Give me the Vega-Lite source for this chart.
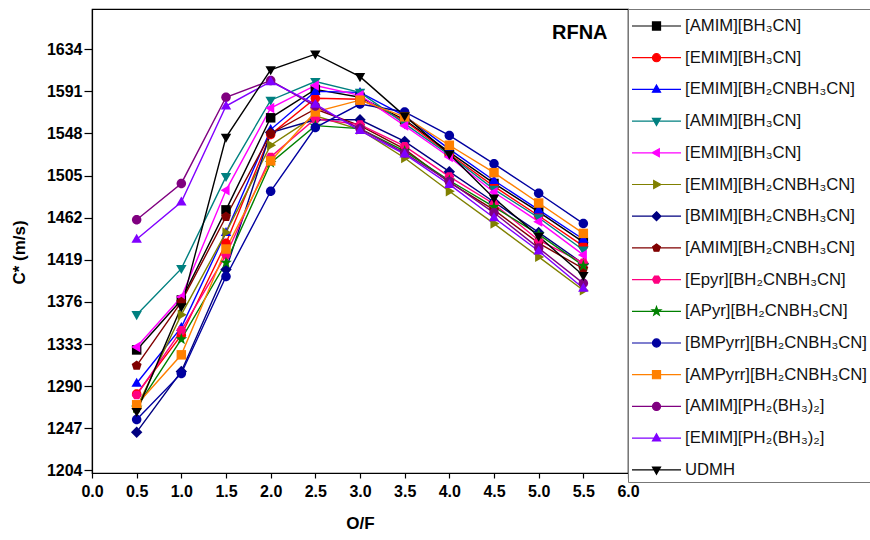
{
  "$schema": "https://vega.github.io/schema/vega-lite/v6.json",
  "width": 536,
  "height": 464,
  "autosize": {"type": "none"},
  "padding": {"left": 92, "top": 9, "right": 242, "bottom": 67},
  "datasets": {"cstar": [
    {"k":1,"x":0.5,"v":1327},{"k":1,"x":1.0,"v":1378},{"k":1,"x":1.5,"v":1470},{"k":1,"x":2.0,"v":1564},{"k":1,"x":2.5,"v":1593},{"k":1,"x":3.0,"v":1585},{"k":1,"x":3.5,"v":1562},{"k":1,"x":4.0,"v":1529},{"k":1,"x":4.5,"v":1497},{"k":1,"x":5.0,"v":1468},{"k":1,"x":5.5,"v":1437},
    {"k":2,"x":0.5,"v":1282},{"k":2,"x":1.0,"v":1342},{"k":2,"x":1.5,"v":1436},{"k":2,"x":2.0,"v":1547},{"k":2,"x":2.5,"v":1584},{"k":2,"x":3.0,"v":1583},{"k":2,"x":3.5,"v":1561},{"k":2,"x":4.0,"v":1527},{"k":2,"x":4.5,"v":1494},{"k":2,"x":5.0,"v":1464},{"k":2,"x":5.5,"v":1433},
    {"k":3,"x":0.5,"v":1293},{"k":3,"x":1.0,"v":1350},{"k":3,"x":1.5,"v":1447},{"k":3,"x":2.0,"v":1552},{"k":3,"x":2.5,"v":1591},{"k":3,"x":3.0,"v":1590},{"k":3,"x":3.5,"v":1566},{"k":3,"x":4.0,"v":1532},{"k":3,"x":4.5,"v":1500},{"k":3,"x":5.0,"v":1470},{"k":3,"x":5.5,"v":1440},
    {"k":4,"x":0.5,"v":1363},{"k":4,"x":1.0,"v":1410},{"k":4,"x":1.5,"v":1504},{"k":4,"x":2.0,"v":1582},{"k":4,"x":2.5,"v":1601},{"k":4,"x":3.0,"v":1590},{"k":4,"x":3.5,"v":1558},{"k":4,"x":4.0,"v":1526},{"k":4,"x":4.5,"v":1491},{"k":4,"x":5.0,"v":1462},{"k":4,"x":5.5,"v":1429},
    {"k":5,"x":0.5,"v":1330},{"k":5,"x":1.0,"v":1381},{"k":5,"x":1.5,"v":1490},{"k":5,"x":2.0,"v":1574},{"k":5,"x":2.5,"v":1597},{"k":5,"x":3.0,"v":1587},{"k":5,"x":3.5,"v":1556},{"k":5,"x":4.0,"v":1524},{"k":5,"x":4.5,"v":1488},{"k":5,"x":5.0,"v":1458},{"k":5,"x":5.5,"v":1424},
    {"k":6,"x":0.5,"v":1268},{"k":6,"x":1.0,"v":1363},{"k":6,"x":1.5,"v":1447},{"k":6,"x":2.0,"v":1536},{"k":6,"x":2.5,"v":1566},{"k":6,"x":3.0,"v":1552},{"k":6,"x":3.5,"v":1523},{"k":6,"x":4.0,"v":1489},{"k":6,"x":4.5,"v":1456},{"k":6,"x":5.0,"v":1422},{"k":6,"x":5.5,"v":1388},
    {"k":7,"x":0.5,"v":1243},{"k":7,"x":1.0,"v":1305},{"k":7,"x":1.5,"v":1409},{"k":7,"x":2.0,"v":1549},{"k":7,"x":2.5,"v":1562},{"k":7,"x":3.0,"v":1562},{"k":7,"x":3.5,"v":1540},{"k":7,"x":4.0,"v":1509},{"k":7,"x":4.5,"v":1478},{"k":7,"x":5.0,"v":1447},{"k":7,"x":5.5,"v":1415},
    {"k":8,"x":0.5,"v":1311},{"k":8,"x":1.0,"v":1376},{"k":8,"x":1.5,"v":1463},{"k":8,"x":2.0,"v":1548},{"k":8,"x":2.5,"v":1573},{"k":8,"x":3.0,"v":1556},{"k":8,"x":3.5,"v":1532},{"k":8,"x":4.0,"v":1498},{"k":8,"x":4.5,"v":1470},{"k":8,"x":5.0,"v":1436},{"k":8,"x":5.5,"v":1410},
    {"k":9,"x":0.5,"v":1281},{"k":9,"x":1.0,"v":1347},{"k":9,"x":1.5,"v":1424},{"k":9,"x":2.0,"v":1524},{"k":9,"x":2.5,"v":1563},{"k":9,"x":3.0,"v":1557},{"k":9,"x":3.5,"v":1535},{"k":9,"x":4.0,"v":1504},{"k":9,"x":4.5,"v":1476},{"k":9,"x":5.0,"v":1439},{"k":9,"x":5.5,"v":1416},
    {"k":10,"x":0.5,"v":1268},{"k":10,"x":1.0,"v":1338},{"k":10,"x":1.5,"v":1416},{"k":10,"x":2.0,"v":1518},{"k":10,"x":2.5,"v":1556},{"k":10,"x":3.0,"v":1553},{"k":10,"x":3.5,"v":1530},{"k":10,"x":4.0,"v":1500},{"k":10,"x":4.5,"v":1473},{"k":10,"x":5.0,"v":1445},{"k":10,"x":5.5,"v":1413},
    {"k":11,"x":0.5,"v":1256},{"k":11,"x":1.0,"v":1303},{"k":11,"x":1.5,"v":1402},{"k":11,"x":2.0,"v":1489},{"k":11,"x":2.5,"v":1554},{"k":11,"x":3.0,"v":1578},{"k":11,"x":3.5,"v":1570},{"k":11,"x":4.0,"v":1546},{"k":11,"x":4.5,"v":1517},{"k":11,"x":5.0,"v":1487},{"k":11,"x":5.5,"v":1456},
    {"k":12,"x":0.5,"v":1271},{"k":12,"x":1.0,"v":1322},{"k":12,"x":1.5,"v":1430},{"k":12,"x":2.0,"v":1520},{"k":12,"x":2.5,"v":1570},{"k":12,"x":3.0,"v":1582},{"k":12,"x":3.5,"v":1565},{"k":12,"x":4.0,"v":1536},{"k":12,"x":4.5,"v":1508},{"k":12,"x":5.0,"v":1477},{"k":12,"x":5.5,"v":1446},
    {"k":13,"x":0.5,"v":1460},{"k":13,"x":1.0,"v":1497},{"k":13,"x":1.5,"v":1585},{"k":13,"x":2.0,"v":1602},{"k":13,"x":2.5,"v":1576},{"k":13,"x":3.0,"v":1553},{"k":13,"x":3.5,"v":1528},{"k":13,"x":4.0,"v":1499},{"k":13,"x":4.5,"v":1467},{"k":13,"x":5.0,"v":1431},{"k":13,"x":5.5,"v":1395},
    {"k":14,"x":0.5,"v":1440},{"k":14,"x":1.0,"v":1478},{"k":14,"x":1.5,"v":1576},{"k":14,"x":2.0,"v":1601},{"k":14,"x":2.5,"v":1578},{"k":14,"x":3.0,"v":1551},{"k":14,"x":3.5,"v":1527},{"k":14,"x":4.0,"v":1496},{"k":14,"x":4.5,"v":1462},{"k":14,"x":5.0,"v":1428},{"k":14,"x":5.5,"v":1390},
    {"k":15,"x":0.5,"v":1264},{"k":15,"x":1.0,"v":1371},{"k":15,"x":1.5,"v":1544},{"k":15,"x":2.0,"v":1613},{"k":15,"x":2.5,"v":1629},{"k":15,"x":3.0,"v":1606},{"k":15,"x":3.5,"v":1566},{"k":15,"x":4.0,"v":1527},{"k":15,"x":4.5,"v":1482},{"k":15,"x":5.0,"v":1443},{"k":15,"x":5.5,"v":1403}
  ]},
  "layer": [
    {"data": {"name": "cstar"},
     "mark": {"type": "line", "strokeWidth": 1.4},
     "encoding": {
       "x": {"field": "x", "type": "quantitative",
         "scale": {"domain": [0, 6], "nice": false, "zero": false},
         "axis": {"title": "O/F", "values": [0,0.25,0.5,0.75,1,1.25,1.5,1.75,2,2.25,2.5,2.75,3,3.25,3.5,3.75,4,4.25,4.5,4.75,5,5.25,5.5,5.75,6],
           "labelExpr": "datum.value % 0.5 == 0 ? format(datum.value, '.1f') : ''",
           "tickSize": {"condition": {"test": "datum.value % 0.5 != 0", "value": 3}, "value": 5},
           "labelFlush": false, "labelOverlap": false, "labelPadding": 5, "titlePadding": 16}},
       "y": {"field": "v", "type": "quantitative",
         "scale": {"domain": [1201.35, 1675.1], "nice": false, "zero": false},
         "axis": {"title": "C* (m/s)", "values": [1204,1225.5,1247,1268.5,1290,1311.5,1333,1354.5,1376,1397.5,1419,1440.5,1462,1483.5,1505,1526.5,1548,1569.5,1591,1612.5,1634,1655.5],
           "labelExpr": "(datum.value - 1204) % 43 == 0 ? format(datum.value, 'd') : ''",
           "tickSize": {"condition": {"test": "(datum.value - 1204) % 43 != 0", "value": 4}, "value": 8},
           "labelFlush": false, "labelOverlap": false, "labelPadding": 2, "titlePadding": 18, "titleY": 243}},
       "color": {"field": "k", "type": "nominal", "legend": null,
         "scale": {"domain": [1,2,3,4,5,6,7,8,9,10,11,12,13,14,15],
           "range": ["#000000","#FF0000","#0000FF","#008080","#FF00FF","#808000","#000080","#800000","#FF0080","#008000","#0000A0","#FF8000","#800080","#8000FF","#000000"]}}}},
    {"data": {"name": "cstar"},
     "mark": {"type": "point", "filled": true, "size": 90, "opacity": 1},
     "encoding": {
       "x": {"field": "x", "type": "quantitative"},
       "y": {"field": "v", "type": "quantitative"},
       "color": {"field": "k", "type": "nominal", "legend": null},
       "shape": {"field": "k", "type": "nominal", "legend": null,
         "scale": {"domain": [1,2,3,4,5,6,7,8,9,10,11,12,13,14,15],
           "range": [
             "M-1,-1H1V1H-1Z",
             "M1,0A1,1,0,1,1,-1,0A1,1,0,1,1,1,0Z",
             "M0,-1.15L1.1,0.75H-1.1Z",
             "M0,1.15L1.1,-0.75H-1.1Z",
             "M-1.15,0L0.75,-1.1V1.1Z",
             "M1.15,0L-0.75,-1.1V1.1Z",
             "M0,-1.2L1.2,0L0,1.2L-1.2,0Z",
             "M0,-1.1L1.046,-0.34L0.647,0.89L-0.647,0.89L-1.046,-0.34Z",
             "M1.05,0L0.525,0.91L-0.525,0.91L-1.05,0L-0.525,-0.91L0.525,-0.91Z",
             "M0,-1.3L0.306,-0.421L1.236,-0.402L0.494,0.161L0.764,1.052L0,0.52L-0.764,1.052L-0.494,0.161L-1.236,-0.402L-0.306,-0.421Z",
             "M1,0A1,1,0,1,1,-1,0A1,1,0,1,1,1,0Z",
             "M-1,-1H1V1H-1Z",
             "M1,0A1,1,0,1,1,-1,0A1,1,0,1,1,1,0Z",
             "M0,-1.15L1.1,0.75H-1.1Z",
             "M0,1.15L1.1,-0.75H-1.1Z"
           ]}}}},
    {"data": {"name": "cstar"},
     "mark": {"type": "point", "filled": true, "opacity": 0, "size": 676, "strokeWidth": 1.2},
     "encoding": {
       "x": {"field": "x", "type": "quantitative"},
       "y": {"field": "v", "type": "quantitative"},
       "shape": {"field": "k", "type": "nominal",
         "legend": {"orient": "right", "offset": 0, "title": null, "padding": 3,
           "strokeColor": "#777777", "fillColor": "white", "rowPadding": 8.7,
           "symbolSize": 676, "symbolStrokeWidth": 1.2, "symbolOpacity": 1,
           "labelFont": "Liberation Sans", "labelFontSize": 16.7, "labelColor": "#111111",
           "labelOffset": 26, "labelLimit": 400,
           "labelExpr": "['[AMIM][BH₃CN]','[EMIM][BH₃CN]','[EMIM][BH₂CNBH₃CN]','[AMIM][BH₃CN]','[EMIM][BH₃CN]','[EMIM][BH₂CNBH₃CN]','[BMIM][BH₂CNBH₃CN]','[AMIM][BH₂CNBH₃CN]','[Epyr][BH₂CNBH₃CN]','[APyr][BH₂CNBH₃CN]','[BMPyrr][BH₂CNBH₃CN]','[AMPyrr][BH₂CNBH₃CN]','[AMIM][PH₂(BH₃)₂]','[EMIM][PH₂(BH₃)₂]','UDMH'][datum.value - 1]"},
         "scale": {"domain": [1,2,3,4,5,6,7,8,9,10,11,12,13,14,15],
           "range": [
             "M-1,0H2.77M0.575,-0.31H1.195V0.31H0.575Z",
             "M-1,0H2.77M1.195,0A0.31,0.31,0,1,1,0.575,0A0.31,0.31,0,1,1,1.195,0Z",
             "M-1,0H2.77M0.885,-0.341L1.195,0.217H0.575Z",
             "M-1,0H2.77M0.885,0.341L1.195,-0.217H0.575Z",
             "M-1,0H2.77M0.544,0L1.102,-0.31V0.31Z",
             "M-1,0H2.77M1.226,0L0.668,-0.31V0.31Z",
             "M-1,0H2.77M0.885,-0.341L1.226,0L0.885,0.341L0.544,0Z",
             "M-1,0H2.77M0.885,-0.31L1.18,-0.096L1.067,0.251L0.703,0.251L0.59,-0.096Z",
             "M-1,0H2.77M1.195,0L1.04,0.268L0.73,0.268L0.575,0L0.73,-0.268L1.04,-0.268Z",
             "M-1,0H2.77M0.885,-0.36L0.97,-0.117L1.227,-0.111L1.022,0.045L1.097,0.291L0.885,0.144L0.673,0.291L0.748,0.045L0.543,-0.111L0.8,-0.117Z",
             "M-1,0H2.77M1.195,0A0.31,0.31,0,1,1,0.575,0A0.31,0.31,0,1,1,1.195,0Z",
             "M-1,0H2.77M0.575,-0.31H1.195V0.31H0.575Z",
             "M-1,0H2.77M1.195,0A0.31,0.31,0,1,1,0.575,0A0.31,0.31,0,1,1,1.195,0Z",
             "M-1,0H2.77M0.885,-0.341L1.195,0.217H0.575Z",
             "M-1,0H2.77M0.885,0.341L1.195,-0.217H0.575Z"
           ]}},
       "fill": {"field": "k", "type": "nominal",
         "scale": {"domain": [1,2,3,4,5,6,7,8,9,10,11,12,13,14,15],
           "range": ["#000000","#FF0000","#0000FF","#008080","#FF00FF","#808000","#000080","#800000","#FF0080","#008000","#0000A0","#FF8000","#800080","#8000FF","#000000"]}},
       "stroke": {"field": "k", "type": "nominal",
         "scale": {"domain": [1,2,3,4,5,6,7,8,9,10,11,12,13,14,15],
           "range": ["#000000","#FF0000","#0000FF","#008080","#FF00FF","#808000","#000080","#800000","#FF0080","#008000","#0000A0","#FF8000","#800080","#8000FF","#000000"]}}
     }},
    {"data": {"values": [{"label": "RFNA"}]},
     "mark": {"type": "text", "fontSize": 20, "fontWeight": "bold", "font": "Liberation Sans", "align": "center", "baseline": "middle", "fill": "black"},
     "encoding": {"x": {"datum": 5.46, "type": "quantitative"}, "y": {"datum": 1650.6, "type": "quantitative"}, "text": {"field": "label", "type": "nominal"}}}
  ],
  "resolve": {"scale": {"shape": "independent", "fill": "independent", "stroke": "independent"}},
  "config": {
    "font": "Liberation Sans",
    "view": {"stroke": "black", "strokeWidth": 1.2},
    "axis": {"grid": false, "domainColor": "black", "domainWidth": 1.2, "tickColor": "black", "tickWidth": 1.2,
      "labelFont": "Liberation Sans", "labelFontSize": 16, "labelFontWeight": "bold", "labelColor": "black",
      "titleFont": "Liberation Sans", "titleFontSize": 17, "titleFontWeight": "bold", "titleColor": "black"}
  }
}
